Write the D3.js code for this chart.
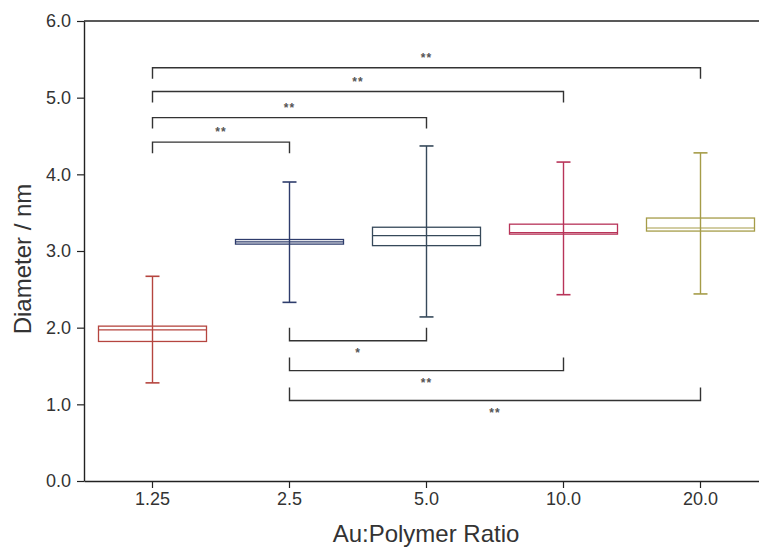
<!DOCTYPE html>
<html>
<head>
<meta charset="utf-8">
<script src="https://cdn.jsdelivr.net/npm/d3@7"></script>
<style>
  html, body { margin: 0; padding: 0; background: #fff; }
  svg { display: block; }
  text { font-family: "Liberation Sans", Arial, sans-serif; }
  .axis text { font-size: 18px; fill: #333; }
</style>
</head>
<body>
<svg id="chart" width="759" height="549"></svg>
<script>
// ---- data ----
const categories = ["1.25", "2.5", "5.0", "10.0", "20.0"];
const whiskerLow  = [1.28, 2.33, 2.14, 2.43, 2.44];
const q1          = [1.82, 3.09, 3.07, 3.22, 3.26];
const median      = [1.97, 3.12, 3.20, 3.24, 3.30];
const q3          = [2.02, 3.15, 3.31, 3.35, 3.43];
const whiskerHigh = [2.67, 3.90, 4.37, 4.16, 4.28];
const boxColors   = ["#b5453f", "#2e3c6c", "#36495a", "#b83459", "#a59c48"];
const yTicks      = [0, 1, 2, 3, 4, 5, 6];

// significance brackets: from, to, level (nm), label
const topFrom   = ["1.25", "1.25", "1.25", "1.25"];
const topTo     = ["20.0", "10.0", "5.0", "2.5"];
const topLevel  = [5.39, 5.08, 4.74, 4.42];
const topLabel  = ["**", "**", "**", "**"];
const botFrom   = ["2.5", "2.5", "2.5"];
const botTo     = ["5.0", "10.0", "20.0"];
const botLevel  = [1.83, 1.44, 1.05];
const botLabel  = ["*", "**", "**"];

(function () {
// ---- layout ----
const svg = d3.select("#chart");
const mLeft = 84, mRight = 769, mTop = 21, mBottom = 481;

const x = d3.scaleBand().domain(categories).range([mLeft, mRight]).padding(0);
const y = d3.scaleLinear().domain([0, 6]).range([mBottom, mTop]);
const cx = c => x(c) + x.bandwidth() / 2;
const boxW = 108, capW = 14;

// frame top line
svg.append("line")
  .attr("x1", mLeft).attr("x2", mRight).attr("y1", mTop).attr("y2", mTop)
  .attr("stroke", "#222").attr("stroke-width", 1.3);

// axes
const yAxis = d3.axisLeft(y).tickValues(yTicks).tickFormat(d3.format(".1f")).tickSize(7).tickSizeOuter(0);
const gy = svg.append("g").attr("class", "axis").attr("transform", `translate(${mLeft},0)`).call(yAxis);
const xAxis = d3.axisBottom(x).tickSize(7).tickSizeOuter(0);
const gx = svg.append("g").attr("class", "axis").attr("transform", `translate(0,${mBottom})`).call(xAxis);
[gx, gy].forEach(g => {
  g.select(".domain").attr("stroke", "#222").attr("stroke-width", 1.4);
  g.selectAll(".tick line").attr("stroke", "#222").attr("stroke-width", 1.2);
});
gy.selectAll(".tick text").attr("x", -13);
gx.selectAll(".tick text").attr("y", 11);

// axis titles
svg.append("text")
  .attr("x", 426).attr("y", 542).attr("text-anchor", "middle")
  .attr("font-size", 24).attr("fill", "#333").text("Au:Polymer Ratio");
svg.append("text")
  .attr("transform", `translate(31,259) rotate(-90)`).attr("text-anchor", "middle")
  .attr("font-size", 24).attr("fill", "#333").text("Diameter / nm");

// boxes
const boxes = categories.map((c, i) => ({
  c, lo: whiskerLow[i], q1: q1[i], med: median[i], q3: q3[i], hi: whiskerHigh[i], col: boxColors[i]
}));
const g = svg.append("g");
boxes.forEach(b => {
  const xc = cx(b.c);
  const gb = g.append("g").attr("stroke", b.col).attr("fill", "none");
  gb.append("line").attr("x1", xc).attr("x2", xc).attr("y1", y(b.lo)).attr("y2", y(b.hi)).attr("stroke-width", 1.4);
  gb.append("line").attr("x1", xc - capW / 2).attr("x2", xc + capW / 2).attr("y1", y(b.hi)).attr("y2", y(b.hi)).attr("stroke-width", 1.6);
  gb.append("line").attr("x1", xc - capW / 2).attr("x2", xc + capW / 2).attr("y1", y(b.lo)).attr("y2", y(b.lo)).attr("stroke-width", 1.6);
  gb.append("rect").attr("x", xc - boxW / 2).attr("width", boxW)
    .attr("y", y(b.q3)).attr("height", y(b.q1) - y(b.q3)).attr("stroke-width", 1.3);
  gb.append("line").attr("x1", xc - boxW / 2).attr("x2", xc + boxW / 2)
    .attr("y1", y(b.med)).attr("y2", y(b.med)).attr("stroke-width", 1.2);
});

// significance brackets
const bracketColor = "#333";
function bracket(from, to, level, label, dir) {
  const x1 = cx(from), x2 = cx(to), yy = y(level);
  const tick = dir === "down" ? 11 : -13;
  svg.append("path")
    .attr("d", `M${x1},${yy + tick}V${yy}H${x2}V${yy + tick}`)
    .attr("fill", "none").attr("stroke", bracketColor).attr("stroke-width", 1.4);
  svg.append("text")
    .attr("x", (x1 + x2) / 2)
    .attr("y", dir === "down" ? yy - 6 : yy + 16)
    .attr("text-anchor", "middle").attr("font-size", 12).attr("font-weight", "bold")
    .attr("fill", "#555").attr("letter-spacing", 1).text(label);
}
topFrom.forEach((f, i) => bracket(f, topTo[i], topLevel[i], topLabel[i], "down"));
botFrom.forEach((f, i) => bracket(f, botTo[i], botLevel[i], botLabel[i], "up"));
})();
</script>
</body>
</html>
